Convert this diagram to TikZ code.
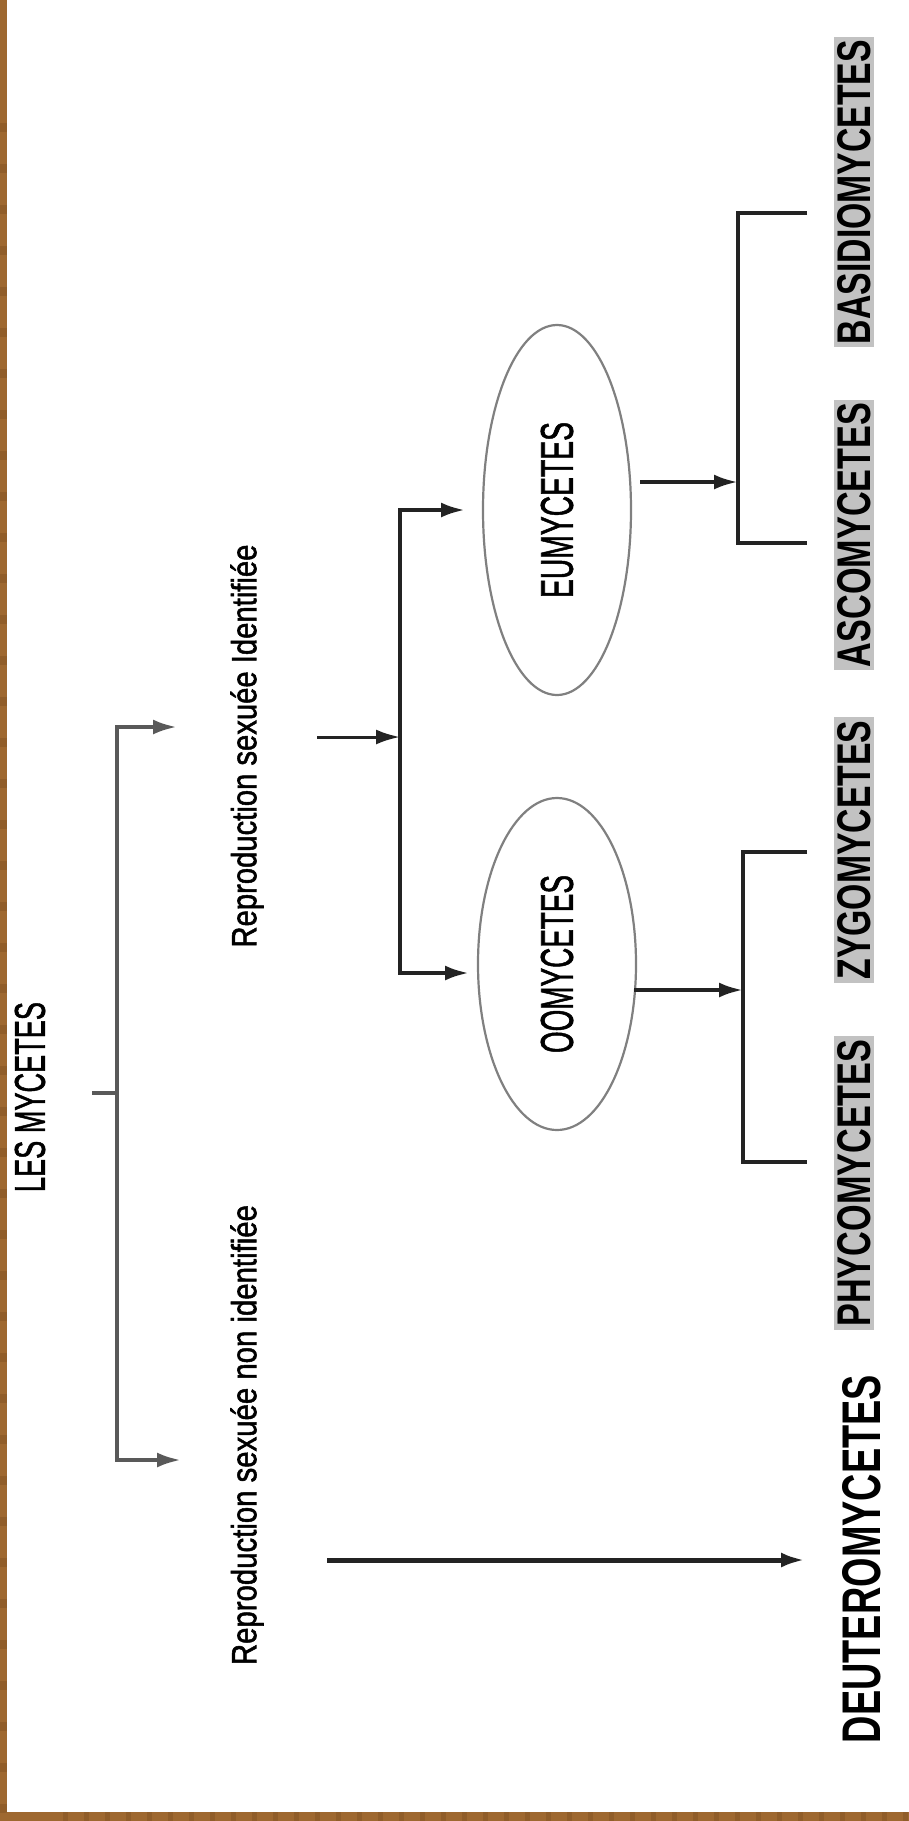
\documentclass[tikz,border=0pt]{standalone}
\usepackage{fontspec}
\setmainfont{Liberation Sans}
\setsansfont{Liberation Sans}
\newfontfamily\heavyfont{Liberation Sans}[FakeBold=1.6]
\usetikzlibrary{arrows.meta,shapes.geometric}
\definecolor{wood}{RGB}{158,104,48}
\definecolor{wooddark}{RGB}{128,80,34}
\definecolor{labelgray}{RGB}{194,194,194}
\definecolor{inkline}{RGB}{35,35,35}

\begin{document}
\begin{tikzpicture}[x=1pt,y=-1pt,
  conn/.style={line width=4pt, draw=inkline},
  arrowed/.style={conn, -{Latex[length=24pt,width=15pt]}},
  rlabel/.style={rotate=90, inner sep=0pt, font=\heavyfont},
  taxon/.style={rotate=90, inner sep=3pt, fill=labelgray},
  group/.style={ellipse, draw=black!50, line width=2.2pt, inner sep=0pt, font=\heavyfont},
]
\useasboundingbox (0,0) rectangle (909,1821);
\fill[white] (0,0) rectangle (909,1821);
% wooden frame along the left and bottom edges
\fill[wood] (0,0) rectangle (7,1821);
\fill[wood] (0,1812) rectangle (909,1821);
\foreach \g in {3,...,44}{
  \fill[wooddark, opacity=0.45] (0,{\g*41}) rectangle (7,{\g*41+9});
  \fill[wooddark, opacity=0.45] ({\g*21},1812) rectangle ({\g*21+5},1821);
}

% root of the classification
\node[rlabel] (title) at (30,1097) {\resizebox{190pt}{30pt}{LES MYCETES}};
\coordinate (tick) at (92,1093);
\coordinate (b1) at (117,1093);
\coordinate (sexY) at (177,727);
\coordinate (sexN) at (181,1460);
\draw[conn, draw=black!65] (tick) -- (b1);
\draw[arrowed, draw=black!65] (b1) |- (sexY);
\draw[arrowed, draw=black!65] (b1) |- (sexN);

\node[rlabel] (lblY) at (247,746) {\resizebox*{403pt}{33pt}{Reproduction sexuée Identifiée}};
\node[rlabel] (lblN) at (247,1435) {\resizebox*{460pt}{33pt}{Reproduction sexuée non identifiée}};

% sexual reproduction identified
\coordinate (jin) at (317,737);
\coordinate (b2) at (400,737);
\coordinate (euIn) at (465,510);
\coordinate (ooIn) at (469,973);
\draw[arrowed, line width=3pt] (jin) -- (b2);
\draw[arrowed] (b2) |- (euIn);
\draw[arrowed] (b2) |- (ooIn);

\node[group, minimum width=148pt, minimum height=370pt] (eu) at (557,510)
  {\rotatebox{90}{\resizebox{176pt}{32pt}{EUMYCETES}}};
\node[group, minimum width=158pt, minimum height=332pt] (oo) at (557,964)
  {\rotatebox{90}{\resizebox{178pt}{32pt}{OOMYCETES}}};

% EUMYCETES branch
\coordinate (euOut) at (640,482);
\coordinate (b3) at (738,482);
\coordinate (basT) at (807,213);
\coordinate (ascT) at (807,543);
\draw[arrowed] (euOut) -- (b3);
\draw[conn] (basT) -| (b3) |- (ascT);

% OOMYCETES branch
\coordinate (ooOut) at (634,990);
\coordinate (b4) at (743,990);
\coordinate (zygT) at (807,852);
\coordinate (phyT) at (807,1162);
\draw[arrowed] (ooOut) -- (b4);
\draw[conn] (zygT) -| (b4) |- (phyT);

% no sexual reproduction identified
\coordinate (dStart) at (327,1560);
\coordinate (dEnd) at (805,1560);
\draw[arrowed, line width=5pt] (dStart) -- (dEnd);

% terminal groups
\node[taxon] (basid) at (854,192) {\resizebox{304pt}{33pt}{\bfseries BASIDIOMYCETES}};
\node[taxon] (asco) at (854,535) {\resizebox{264pt}{33pt}{\bfseries ASCOMYCETES}};
\node[taxon] (zygo) at (854,850) {\resizebox{259pt}{33pt}{\bfseries ZYGOMYCETES}};
\node[taxon] (phyco) at (854,1183) {\resizebox{287pt}{33pt}{\bfseries PHYCOMYCETES}};
\node[rotate=90, inner sep=0pt] (deut) at (862,1559) {\resizebox{368pt}{38pt}{\bfseries DEUTEROMYCETES}};
\end{tikzpicture}
\end{document}
